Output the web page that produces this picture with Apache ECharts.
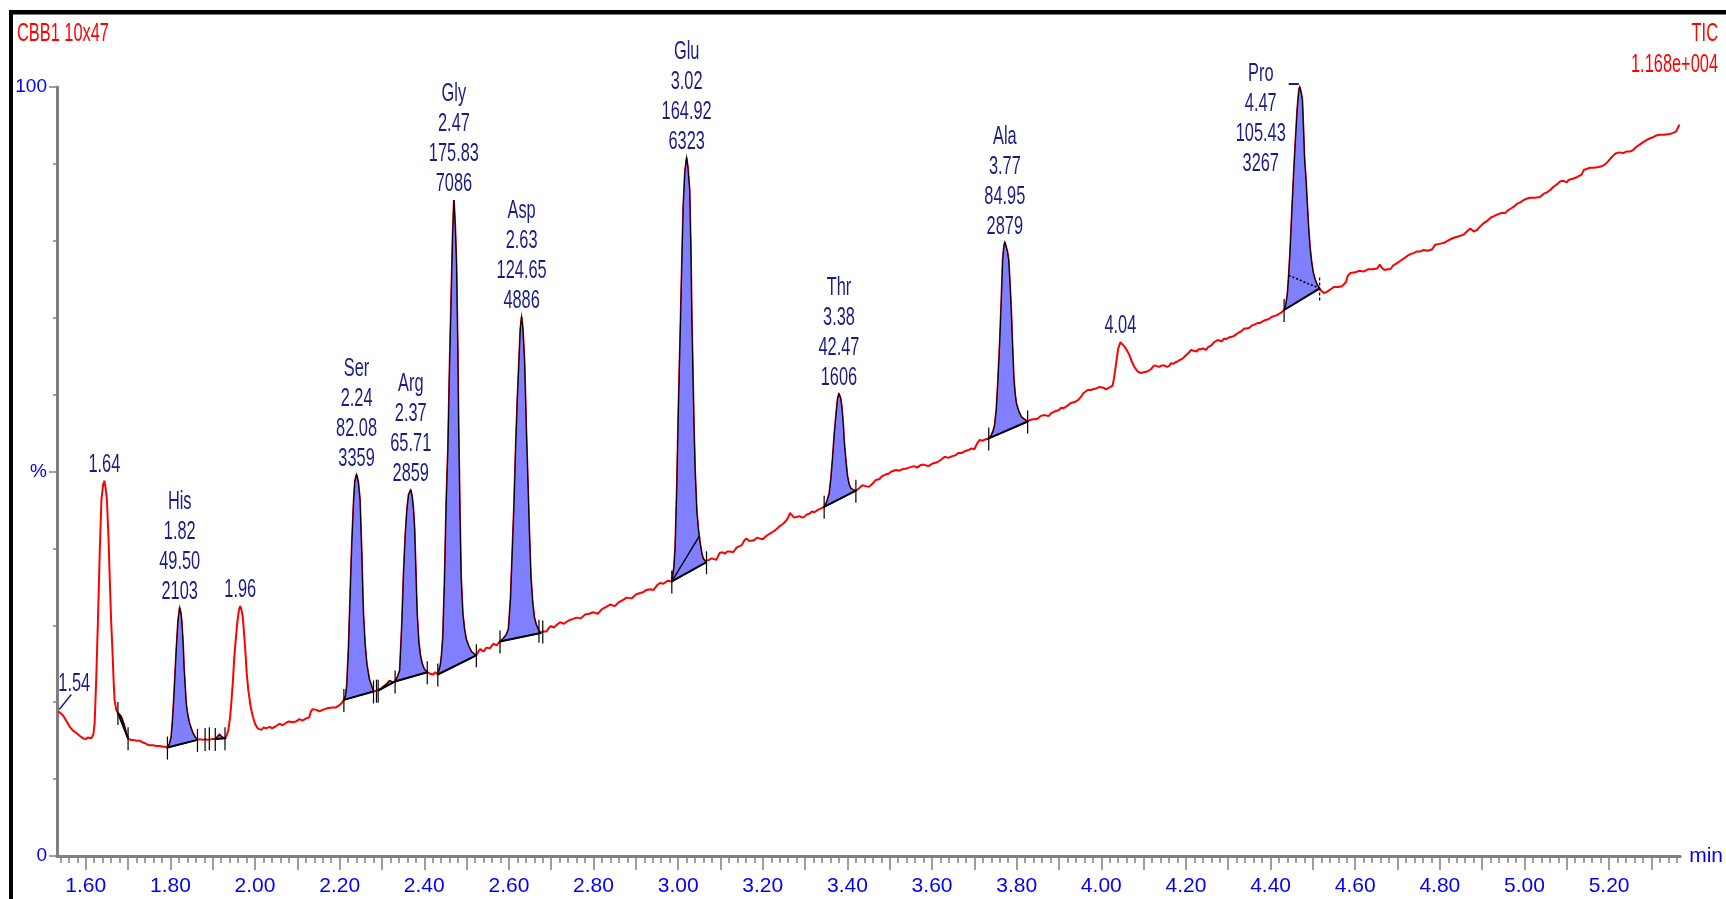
<!DOCTYPE html>
<html><head><meta charset="utf-8">
<script src="https://cdn.jsdelivr.net/npm/echarts@6/dist/echarts.min.js"></script>
<style>html,body{margin:0;padding:0;background:#fff;overflow:hidden}#c{width:1726px;height:899px}</style>
</head><body><div id="c"></div><script>
// ---------- data ----------
const traceA = [[1.535,18.8],[1.540,18.6],[1.546,18.3],[1.550,18.1],[1.556,17.4],[1.562,16.8],[1.570,16.3],[1.578,16.0],[1.586,15.6],[1.594,15.3],[1.600,15.2],[1.605,15.4],[1.613,15.3],[1.618,15.8],[1.621,17.3],[1.625,23.5],[1.629,31.1],[1.633,39.5],[1.637,46.3],[1.641,48.3],[1.644,48.8],[1.647,47.8],[1.650,46.3],[1.654,41.0],[1.657,35.5],[1.660,30.5],[1.663,26.8],[1.666,22.5],[1.668,20.3],[1.672,19.0],[1.676,18.6],[1.680,18.4],[1.684,18.1],[1.688,17.5],[1.692,16.8],[1.696,15.9],[1.700,15.3],[1.706,15.1],[1.712,15.1],[1.720,15.0],[1.727,15.0],[1.733,14.8],[1.739,14.7],[1.745,14.5],[1.751,14.4],[1.759,14.4],[1.767,14.3],[1.775,14.3],[1.782,14.2],[1.788,14.2],[1.793,14.1],[1.798,14.6],[1.802,15.5],[1.805,17.5],[1.808,20.3],[1.811,23.5],[1.814,26.8],[1.818,30.5],[1.822,32.3],[1.825,31.5],[1.827,30.3],[1.830,27.5],[1.832,24.6],[1.835,21.8],[1.837,19.9],[1.841,18.3],[1.845,17.3],[1.849,16.6],[1.853,16.0],[1.858,15.5],[1.864,15.1],[1.870,15.2],[1.876,15.1],[1.882,15.2],[1.888,15.1],[1.892,15.3],[1.898,15.2],[1.906,15.2],[1.911,15.5],[1.916,15.8],[1.921,15.5],[1.929,15.3],[1.933,15.7],[1.937,16.4],[1.941,18.0],[1.944,19.9],[1.948,23.0],[1.951,25.9],[1.955,28.5],[1.958,30.3],[1.962,32.0],[1.965,32.5],[1.968,32.0],[1.971,31.1],[1.974,29.0],[1.977,26.8],[1.980,24.0],[1.984,21.6],[1.990,19.3],[1.995,18.1],[2.000,17.2],[2.006,16.6],[2.015,16.4],[2.020,16.7],[2.026,16.6],[2.035,16.8],[2.040,16.6],[2.050,16.9],[2.058,17.2],[2.065,17.0],[2.073,17.3],[2.080,17.5],[2.088,17.4],[2.097,17.5],[2.105,17.8],[2.112,17.6],[2.121,17.9],[2.128,18.0],[2.132,18.8],[2.136,19.1],[2.145,19.0],[2.152,18.8],[2.160,19.0],[2.170,19.2],[2.183,19.3],[2.190,19.3],[2.199,19.6],[2.205,19.9],[2.210,20.3]];
const traceB = [[2.214,20.8],[2.217,22.2],[2.221,27.0],[2.225,34.0],[2.229,40.8],[2.233,46.0],[2.236,48.7],[2.240,49.6],[2.244,48.6],[2.248,46.3],[2.252,39.5],[2.256,31.5],[2.260,27.5],[2.264,25.0],[2.270,23.0],[2.275,22.2],[2.280,21.4],[2.287,21.5],[2.291,21.5],[2.298,21.8],[2.305,22.1],[2.312,22.4],[2.318,22.8],[2.325,22.6],[2.331,22.7],[2.336,23.2],[2.342,24.1],[2.347,30.0],[2.351,36.5],[2.355,41.5],[2.359,45.0],[2.363,47.0],[2.368,47.6],[2.371,46.8],[2.374,45.3],[2.377,42.5],[2.380,37.0],[2.383,31.5],[2.387,27.8],[2.391,26.0],[2.395,25.0],[2.400,24.3],[2.407,23.9],[2.414,23.7],[2.421,23.6],[2.426,23.9],[2.432,23.6],[2.438,24.8],[2.441,26.2],[2.444,28.5],[2.448,36.0],[2.452,46.0],[2.456,53.0],[2.460,64.0],[2.464,73.3],[2.467,80.5],[2.470,85.3],[2.473,82.0],[2.476,77.0],[2.479,66.0],[2.481,56.0],[2.484,45.0],[2.487,36.1],[2.491,31.5],[2.495,29.5],[2.499,28.2],[2.505,27.3],[2.511,26.6],[2.517,26.3],[2.523,26.1]];
const traceC = [[2.528,26.6],[2.532,26.9],[2.540,26.6],[2.547,27.1],[2.555,27.0],[2.563,27.6],[2.571,27.4],[2.579,27.9],[2.587,28.3],[2.594,28.8],[2.599,29.5],[2.604,33.5],[2.608,39.5],[2.612,45.4],[2.616,53.0],[2.620,59.3],[2.624,64.5],[2.627,68.5],[2.630,70.1],[2.633,68.5],[2.637,64.0],[2.641,55.5],[2.644,50.1],[2.648,42.5],[2.652,36.2],[2.656,33.0],[2.660,31.0],[2.665,30.0],[2.671,29.3],[2.675,29.0],[2.680,29.2],[2.689,29.2],[2.695,29.7],[2.700,29.9],[2.706,29.7],[2.714,30.1],[2.721,30.4],[2.730,30.2],[2.740,30.6],[2.750,30.8],[2.760,31.0],[2.770,30.9],[2.780,31.4],[2.790,31.5],[2.799,31.7],[2.810,31.5],[2.820,32.1],[2.830,32.4],[2.839,32.7],[2.850,32.5],[2.860,33.0],[2.870,33.3],[2.878,33.6],[2.890,33.5],[2.900,34.0],[2.910,34.2],[2.917,34.3],[2.925,34.6],[2.934,34.7],[2.942,34.6],[2.950,35.2],[2.957,35.5],[2.965,35.4],[2.975,35.8],[2.985,35.7]];
const traceD = [[2.990,37.5],[2.993,40.1],[2.997,48.0],[3.000,56.4],[3.003,63.5],[3.006,70.3],[3.009,77.5],[3.012,84.3],[3.016,89.0],[3.020,90.8],[3.023,89.5],[3.027,86.6],[3.030,78.5],[3.032,70.3],[3.035,62.0],[3.037,56.4],[3.040,50.0],[3.044,44.8],[3.048,42.3],[3.052,40.6],[3.056,39.3],[3.059,38.7],[3.063,38.4],[3.067,38.2],[3.073,38.5],[3.079,38.7],[3.085,38.6],[3.090,38.5],[3.098,39.4],[3.105,39.5],[3.110,39.3],[3.116,39.6],[3.122,39.6],[3.130,39.5],[3.138,40.1],[3.145,40.3],[3.150,40.4],[3.156,41.0],[3.161,41.3],[3.167,41.0],[3.173,41.0],[3.180,41.1],[3.186,41.4],[3.192,41.3],[3.200,41.2],[3.208,41.6],[3.216,41.9],[3.222,42.1],[3.228,42.3],[3.234,42.6],[3.240,42.9],[3.248,43.2],[3.255,43.6],[3.260,44.0],[3.264,44.6],[3.268,44.5],[3.274,44.0],[3.280,44.1],[3.287,44.2],[3.293,44.0],[3.298,44.1],[3.304,44.4],[3.310,44.5],[3.316,44.8],[3.322,44.7],[3.330,45.0],[3.338,45.2],[3.345,45.4],[3.351,46.0],[3.357,47.1],[3.361,49.0],[3.365,51.7],[3.369,54.8],[3.373,57.3],[3.377,59.5],[3.380,60.1],[3.384,59.5],[3.387,58.2],[3.390,56.2],[3.392,54.1],[3.396,51.5],[3.400,49.4],[3.404,48.3],[3.408,47.8],[3.414,47.6],[3.420,47.5]];
const traceE = [[3.427,47.8],[3.435,48.2],[3.443,48.1],[3.451,48.0],[3.459,48.4],[3.467,48.9],[3.475,49.0],[3.482,49.4],[3.490,49.6],[3.497,49.7],[3.504,50.0],[3.515,50.2],[3.523,50.1],[3.530,50.3],[3.540,50.4],[3.551,50.6],[3.558,50.7],[3.565,50.5],[3.572,50.8],[3.580,50.9],[3.591,50.7],[3.600,51.0],[3.612,51.2],[3.620,51.5],[3.630,51.9],[3.640,51.8],[3.648,52.0],[3.655,52.1],[3.662,52.4],[3.669,52.4],[3.680,52.7],[3.687,52.8],[3.693,53.0],[3.700,52.9],[3.706,53.6],[3.712,54.1],[3.720,54.0],[3.727,54.2],[3.734,54.3],[3.740,54.7],[3.744,55.2],[3.748,56.0],[3.752,58.0],[3.756,62.0],[3.760,66.7],[3.764,72.5],[3.767,77.5],[3.770,79.3],[3.772,79.8],[3.775,79.2],[3.778,78.6],[3.781,77.5],[3.784,74.5],[3.787,71.0],[3.790,66.5],[3.793,62.3],[3.796,60.2],[3.799,58.9],[3.805,57.8],[3.811,57.1],[3.818,56.8],[3.826,56.5],[3.832,56.7],[3.838,56.8],[3.844,56.8],[3.850,56.9],[3.856,57.2],[3.862,57.3],[3.869,57.3],[3.875,57.2],[3.882,57.6],[3.889,57.8],[3.895,57.9],[3.900,58.0],[3.905,58.3],[3.910,58.2],[3.916,58.4],[3.921,58.6],[3.928,58.9],[3.935,59.0],[3.940,59.1],[3.945,59.3],[3.952,59.7],[3.958,60.2],[3.962,60.1],[3.968,60.6],[3.975,60.6],[3.980,60.7],[3.988,60.8],[3.996,61.0],[4.005,60.9],[4.010,60.7],[4.015,60.8],[4.022,61.0],[4.027,61.2],[4.031,62.5],[4.035,64.1],[4.040,66.0],[4.045,66.8],[4.049,66.7],[4.054,66.3],[4.059,65.9],[4.066,65.2],[4.072,64.3],[4.078,63.6],[4.086,63.0],[4.094,62.8],[4.100,62.9],[4.109,63.0],[4.117,63.3],[4.125,63.8],[4.131,63.7],[4.137,63.6],[4.143,63.8],[4.149,63.8],[4.155,63.6],[4.160,63.7],[4.165,64.1],[4.170,64.0],[4.175,64.2],[4.180,64.3],[4.185,64.5],[4.190,64.6],[4.196,64.9],[4.200,65.1],[4.206,65.4],[4.212,65.8],[4.218,65.7],[4.225,65.6],[4.230,65.9],[4.235,65.9],[4.241,66.0],[4.247,65.8],[4.253,66.2],[4.260,66.4],[4.266,66.8],[4.275,67.1],[4.280,67.0],[4.285,66.9],[4.290,67.3],[4.295,67.2],[4.300,67.4],[4.306,67.5],[4.313,67.6],[4.320,67.9],[4.326,68.1],[4.332,68.3],[4.338,68.6],[4.344,68.6],[4.350,68.7],[4.356,69.0],[4.362,69.1],[4.369,69.3],[4.375,69.3],[4.380,69.5],[4.388,69.7],[4.395,69.8],[4.402,70.1],[4.408,70.2],[4.414,70.3],[4.420,70.5],[4.426,70.7],[4.432,71.0]];
const traceF = [[4.436,71.6],[4.440,73.1],[4.443,75.5],[4.446,78.4],[4.451,84.4],[4.455,89.0],[4.459,93.1],[4.463,97.0],[4.467,99.6],[4.469,100.0],[4.472,99.3],[4.475,98.3],[4.478,94.0],[4.480,90.9],[4.484,87.5],[4.487,84.4],[4.490,81.5],[4.493,79.2],[4.497,77.2],[4.501,75.8],[4.505,75.0],[4.510,74.3],[4.516,73.8],[4.520,73.5],[4.526,73.2],[4.534,73.4],[4.542,73.7],[4.550,74.0],[4.560,74.0],[4.569,74.1],[4.578,74.6],[4.583,75.5],[4.589,75.8],[4.600,75.9],[4.610,76.1],[4.620,76.0],[4.630,76.3],[4.640,76.3],[4.652,76.4],[4.658,76.9],[4.663,76.5],[4.669,76.2],[4.676,76.3],[4.683,76.3],[4.690,76.8],[4.699,77.1],[4.707,77.4],[4.715,77.7],[4.725,78.1],[4.732,78.3],[4.738,78.4],[4.745,78.6],[4.753,78.6],[4.762,78.8],[4.772,78.7],[4.782,78.9],[4.789,79.5],[4.798,79.6],[4.809,79.7],[4.818,80.0],[4.825,80.2],[4.833,80.4],[4.845,80.6],[4.856,80.8],[4.864,81.2],[4.872,81.6],[4.880,81.2],[4.888,81.4],[4.896,81.9],[4.904,82.3],[4.912,82.6],[4.920,83.0],[4.928,83.2],[4.935,83.4],[4.945,83.6],[4.954,83.6],[4.962,84.0],[4.968,84.2],[4.974,84.4],[4.982,84.8],[4.990,85.0],[4.998,85.3],[5.006,85.5],[5.015,85.6],[5.025,85.6],[5.037,85.7],[5.045,86.1],[5.053,86.3],[5.061,86.6],[5.068,87.0],[5.076,87.3],[5.084,87.7],[5.092,87.8],[5.100,87.6],[5.104,87.9],[5.110,88.0],[5.116,88.1],[5.125,88.3],[5.135,88.6],[5.140,89.2],[5.143,89.4],[5.155,89.5],[5.165,89.5],[5.175,89.6],[5.183,89.7],[5.190,89.9],[5.197,90.3],[5.205,90.8],[5.212,91.2],[5.217,91.4],[5.225,91.5],[5.233,91.4],[5.241,91.6],[5.249,91.6],[5.257,91.8],[5.264,92.2],[5.272,92.5],[5.280,92.8],[5.288,93.1],[5.296,93.3],[5.305,93.5],[5.312,93.7],[5.319,93.8],[5.330,93.8],[5.343,93.9],[5.350,94.0],[5.358,94.2],[5.362,94.6],[5.366,95.1]];

// peak annotations
const peakRT     = [1.54, 1.64, 1.82, 1.96, 2.24, 2.37, 2.47, 2.63, 3.02, 3.38, 3.77, 4.04, 4.47];
const peakRTText = ['1.54','1.64','1.82','1.96','2.24','2.37','2.47','2.63','3.02','3.38','3.77','4.04','4.47'];
const peakName   = ['', '', 'His', '', 'Ser', 'Arg', 'Gly', 'Asp', 'Glu', 'Thr', 'Ala', '', 'Pro'];
const peakHeight = ['', '', '49.50', '', '82.08', '65.71', '175.83', '124.65', '164.92', '42.47', '84.95', '', '105.43'];
const peakArea   = ['', '', '2103', '', '3359', '2859', '7086', '4886', '6323', '1606', '2879', '', '3267'];

// integration windows (start / end retention times)
const integStart = [1.676, 1.793, 1.906, 2.210, 2.291, 2.331, 2.432, 2.579, 2.985, 3.345, 3.734, 4.432];
const integEnd   = [1.700, 1.864, 1.929, 2.280, 2.331, 2.407, 2.523, 2.675, 3.067, 3.420, 3.826, 4.516];
const tickTimes  = [1.676, 1.700, 1.793, 1.864, 1.882, 1.892, 1.906, 1.929, 2.210, 2.280, 2.287, 2.291, 2.331, 2.407, 2.432, 2.523, 2.579, 2.671, 2.680, 2.985, 3.067, 3.345, 3.420, 3.734, 3.826, 4.432];
const dashedTickTimes = [4.516];
const dropLine = [[2.985, 35.7], [3.050, 41.6]];
const skimLine = [[4.443, 75.5], [4.516, 73.8]];

// axis
const X_MIN = 1.532, X_MAX = 5.368;
const xLabelValues = [1.6, 1.8, 2.0, 2.2, 2.4, 2.6, 2.8, 3.0, 3.2, 3.4, 3.6, 3.8, 4.0, 4.2, 4.4, 4.6, 4.8, 5.0, 5.2];
const xMinorTicks = []; for (let k = 77; k <= 268; k++) xMinorTicks.push(k / 50);
const xMajorTicks = []; for (let k = 16; k <= 53; k++) xMajorTicks.push(k / 10);

// ---------- helpers ----------
const trace = [].concat(traceA, traceB, traceC, traceD, traceE, traceF);
function valueAt(t) {
  for (let i = 1; i < trace.length; i++) {
    if (trace[i][0] >= t - 1e-9) {
      const a = trace[i - 1], b = trace[i];
      if (Math.abs(b[0] - t) < 1e-9) return b[1];
      return a[1] + (b[1] - a[1]) * (t - a[0]) / (b[0] - a[0]);
    }
  }
  return trace[trace.length - 1][1];
}
function apexNear(t) {
  let best = null;
  trace.forEach(p => { if (Math.abs(p[0] - t) <= 0.012 && (!best || p[1] > best[1])) best = p; });
  return best;
}

const NAVY = '#1c1c84';
const FONT = '"Liberation Sans", Arial, sans-serif';
const AXFONT = '"Liberation Sans Narrow", "Arial Narrow", "Liberation Sans", Arial, sans-serif';
const SX = 0.63;
// style-only offsets of some label blocks (pixels)
const labelShift = { '1.54': [16, -12], '4.47': [-39, 93] };

const chart = echarts.init(document.getElementById('c'));
chart.setOption({
  animation: false,
  backgroundColor: '#fff',
  grid: { left: 57, right: 42, top: 87, bottom: 43 },
  xAxis: [{
    type: 'value', min: X_MIN, max: X_MAX, position: 'bottom',
    axisLine: { lineStyle: { color: '#808080', width: 3 } },
    axisTick: { customValues: xMinorTicks, length: 7, lineStyle: { color: '#808080', width: 1.5 } },
    axisLabel: { customValues: xLabelValues, formatter: v => v.toFixed(2), color: '#0000ff', fontSize: 21, fontFamily: AXFONT, margin: 20 },
    splitLine: { show: false },
    name: 'min', nameLocation: 'end', nameGap: 9,
    nameTextStyle: { color: '#0000ff', fontSize: 21, fontFamily: AXFONT, verticalAlign: 'middle' }
  }, {
    type: 'value', min: X_MIN, max: X_MAX, position: 'bottom',
    axisLine: { show: false },
    axisTick: { customValues: xMajorTicks, length: 14, lineStyle: { color: '#808080', width: 1.5 } },
    axisLabel: { show: false }, splitLine: { show: false }
  }],
  yAxis: {
    type: 'value', min: 0, max: 100, interval: 50,
    axisLine: { show: true, lineStyle: { color: '#808080', width: 3 } },
    axisTick: { show: true, length: 8, lineStyle: { color: '#808080', width: 1.5 } },
    minorTick: { show: true, splitNumber: 5, length: 4, lineStyle: { color: '#808080', width: 1.5 } },
    axisLabel: { formatter: v => (v === 50 ? '%' : String(v)), color: '#0000ff', fontSize: 19, fontFamily: AXFONT, margin: 10 },
    splitLine: { show: false }
  },
  graphic: [
    { type: 'rect', shape: { x: 9, y: 10, width: 1717, height: 4.5 }, style: { fill: '#000' }, z: 100 },
    { type: 'rect', shape: { x: 9, y: 10, width: 4, height: 889 }, style: { fill: '#000' }, z: 100 },
    { type: 'text', x: 17, y: 34, scaleX: SX, style: { text: 'CBB1 10x47', fill: '#ff0000', font: '26px ' + FONT, textVerticalAlign: 'middle' } },
    { type: 'text', x: 1718, y: 34, scaleX: SX, style: { text: 'TIC', fill: '#ff0000', font: '26px ' + FONT, textAlign: 'right', textVerticalAlign: 'middle' } },
    { type: 'text', x: 1718, y: 65, scaleX: SX, style: { text: '1.168e+004', fill: '#ff0000', font: '26px ' + FONT, textAlign: 'right', textVerticalAlign: 'middle' } }
  ],
  series: [
    { // TIC trace
      type: 'line', data: trace, showSymbol: false, symbol: 'none', z: 2,
      lineStyle: { color: '#ff0000', width: 2 }, animation: false
    },
    { // integrated areas
      type: 'custom', z: 3, data: integStart.map((s, i) => [s, integEnd[i]]),
      renderItem: (params, api) => {
        const s = api.value(0), e = api.value(1);
        const pts = trace.filter(p => p[0] >= s - 1e-9 && p[0] <= e + 1e-9).map(p => api.coord(p));
        return { type: 'polygon', shape: { points: pts }, style: { fill: '#8080ff', stroke: '#000', lineWidth: 1.2 } };
      }
    },
    { // baselines
      type: 'custom', z: 4, data: integStart.map((s, i) => [s, integEnd[i]]),
      renderItem: (params, api) => {
        const a = api.coord([api.value(0), valueAt(api.value(0))]);
        const b = api.coord([api.value(1), valueAt(api.value(1))]);
        return { type: 'line', shape: { x1: a[0], y1: a[1], x2: b[0], y2: b[1] }, style: { stroke: '#000', lineWidth: 2 } };
      }
    },
    { // drop line (Glu) and skim line (Pro)
      type: 'custom', z: 4, data: [[dropLine[0][0], dropLine[0][1], dropLine[1][0], dropLine[1][1], 0], [skimLine[0][0], skimLine[0][1], skimLine[1][0], skimLine[1][1], 1]],
      renderItem: (params, api) => {
        const a = api.coord([api.value(0), api.value(1)]);
        const b = api.coord([api.value(2), api.value(3)]);
        const dotted = api.value(4) === 1;
        return { type: 'line', shape: { x1: a[0], y1: a[1], x2: b[0], y2: b[1] }, style: { stroke: '#000', lineWidth: dotted ? 1.6 : 1.4, lineDash: dotted ? [2, 2] : null } };
      }
    },
    { // integration tick marks
      type: 'custom', z: 4, data: tickTimes.map(t => [t, 0]).concat(dashedTickTimes.map(t => [t, 1])),
      renderItem: (params, api) => {
        const t = api.value(0);
        const p = api.coord([t, valueAt(t)]);
        const dashed = api.value(1) === 1;
        return { type: 'line', shape: { x1: p[0], y1: p[1] - 11, x2: p[0], y2: p[1] + 12 }, style: { stroke: '#000', lineWidth: 1.2, lineDash: dashed ? [3, 2] : null } };
      }
    },
    { // peak labels
      type: 'custom', z: 5, data: peakRT.map((t, i) => { const a = apexNear(t); return [a[0], a[1], i]; }),
      renderItem: (params, api) => {
        const i = api.value(2);
        const p = api.coord([api.value(0), api.value(1)]);
        const lines = [peakName[i], peakRTText[i], peakHeight[i], peakArea[i]].filter(s => s !== '');
        const sh = labelShift[peakRTText[i]] || [0, 0];
        const cx = p[0] + sh[0], by = p[1] - 16 + sh[1];
        const children = lines.map((txt, k) => ({
          type: 'text', x: cx, y: by - 30 * (lines.length - 1 - k), scaleX: SX,
          style: { text: txt, fill: NAVY, font: '26px ' + FONT, textAlign: 'center', textVerticalAlign: 'middle' }
        }));
        if (peakRTText[i] === '1.54') {
          children.push({ type: 'line', shape: { x1: p[0] + 1, y1: p[1] - 2, x2: p[0] + 13, y2: p[1] - 17 }, style: { stroke: NAVY, lineWidth: 1.5 } });
        }
        if (peakRTText[i] === '4.47') {
          children.push({ type: 'line', shape: { x1: p[0] - 11, y1: p[1] - 3, x2: p[0] - 1, y2: p[1] - 3 }, style: { stroke: NAVY, lineWidth: 2 } });
        }
        return { type: 'group', children };
      }
    }
  ]
});
</script></body></html>
